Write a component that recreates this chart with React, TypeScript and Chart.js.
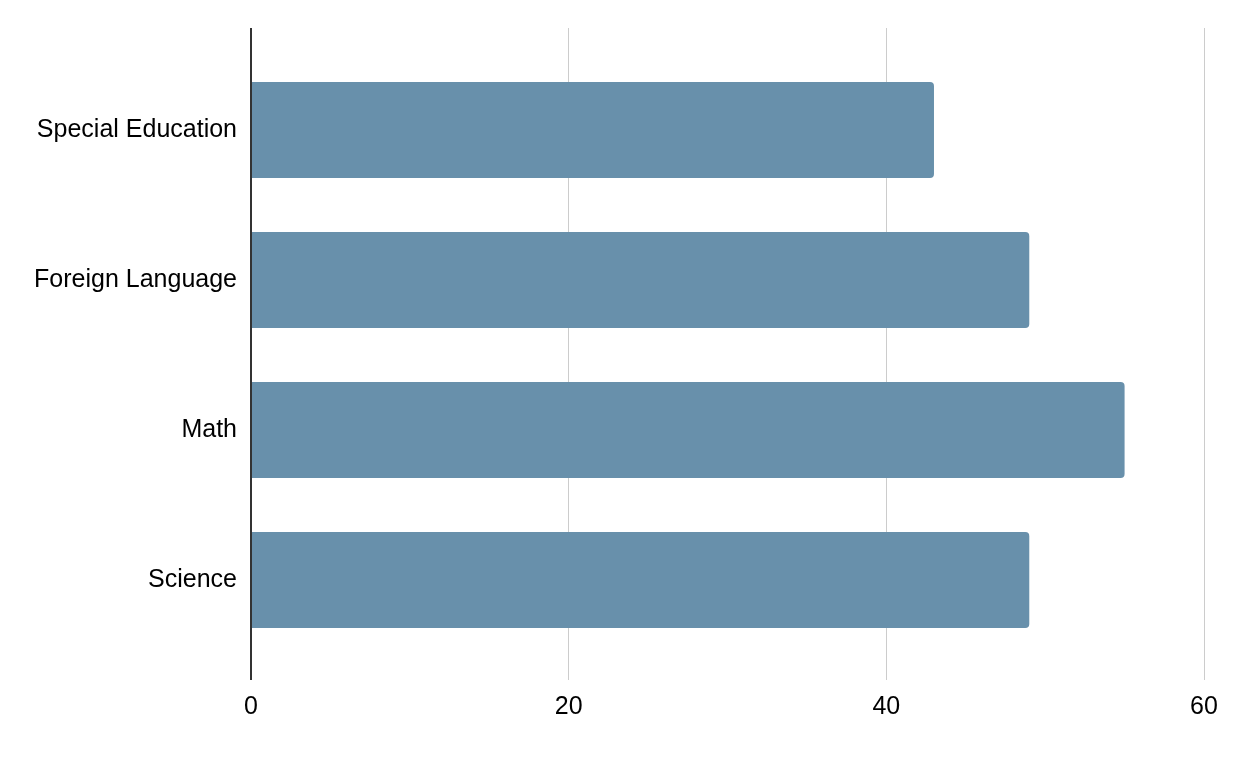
import React, { useEffect, useRef } from "react";
import { Chart, registerables } from "chart.js";

Chart.register(...registerables);

const categories = ["Special Education", "Foreign Language", "Math", "Science"];
const values = [43, 49, 55, 49];
const xMin = 0;
const xMax = 60;
const xStep = 20;

const BAR_COLOR = "#6890ab";
const GRID_COLOR = "#cccccc";
const AXIS_COLOR = "#333333";
const FONT = "Liberation Sans";

export default function App() {
  const ref = useRef<HTMLCanvasElement | null>(null);

  useEffect(() => {
    if (!ref.current) return;
    const lineColor = (ctx: any) => (ctx.tick && ctx.tick.value === 0 ? AXIS_COLOR : GRID_COLOR);
    const lineWidth = (ctx: any) => (ctx.tick && ctx.tick.value === 0 ? 2 : 1);
    const chart = new Chart(ref.current, {
      type: "bar",
      data: {
        labels: categories,
        datasets: [
          {
            data: values,
            backgroundColor: BAR_COLOR,
            borderRadius: 4,
            barPercentage: 0.64,
            categoryPercentage: 1,
            xAxisID: "x",
          },
        ],
      },
      options: {
        indexAxis: "y",
        animation: false,
        responsive: false,
        maintainAspectRatio: false,
        layout: { padding: { top: 28, right: 42, bottom: 0, left: 0 } },
        plugins: { legend: { display: false }, tooltip: { enabled: false } },
        scales: {
          x: {
            type: "linear",
            position: "bottom",
            min: xMin,
            max: xMax,
            ticks: {
              stepSize: xStep,
              color: "#000",
              font: { family: FONT, size: 25 },
              padding: 12,
            },
            grid: {
              color: lineColor,
              lineWidth: lineWidth,
              drawTicks: true,
              tickLength: 25,
              tickColor: lineColor,
              tickWidth: lineWidth,
            },
            border: { display: false },
            afterFit: (s: any) => {
              s.height = 107;
            },
          },
          x2: {
            type: "linear",
            position: "top",
            min: xMin,
            max: xMax,
            ticks: { stepSize: xStep, display: false },
            grid: {
              drawOnChartArea: false,
              drawTicks: true,
              tickLength: 27,
              color: lineColor,
              lineWidth: lineWidth,
              tickColor: lineColor,
              tickWidth: lineWidth,
            },
            border: { display: false },
            afterFit: (s: any) => {
              s.height = 27;
            },
          },
          y: {
            type: "category",
            ticks: {
              color: "#000",
              font: { family: FONT, size: 25 },
              padding: 14,
            },
            grid: { display: false, drawTicks: false },
            border: { display: false },
            afterFit: (s: any) => {
              s.width = 251;
            },
          },
        },
      },
    });
    return () => chart.destroy();
  }, []);

  return (
    <div style={{ position: "fixed", left: 0, top: 0, width: 1246, height: 762, background: "#fff" }}>
      <canvas ref={ref} width={1246} height={762} style={{ width: 1246, height: 762 }} />
    </div>
  );
}
